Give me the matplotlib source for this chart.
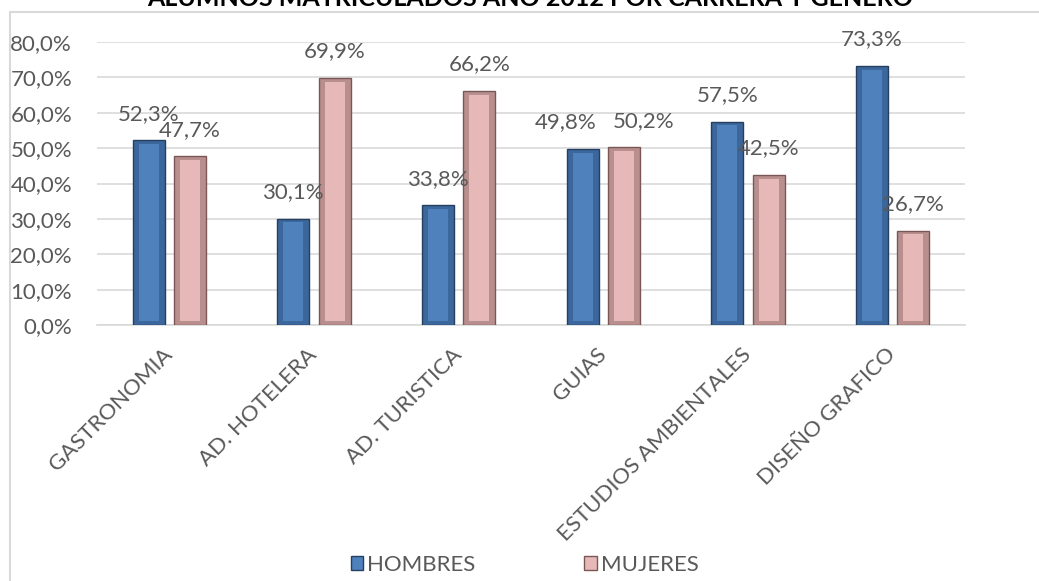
import matplotlib.pyplot as plt
from matplotlib.patches import Rectangle, Patch
from matplotlib.ticker import FuncFormatter
import numpy as np

plt.rcParams['font.family'] = ['Lato', 'DejaVu Sans']

categorias = ['GASTRONOMIA', 'AD. HOTELERA', 'AD. TURISTICA', 'GUIAS',
              'ESTUDIOS AMBIENTALES', 'DISEÑO GRAFICO']
hombres = [0.523, 0.301, 0.338, 0.498, 0.575, 0.733]
mujeres = [0.477, 0.699, 0.662, 0.502, 0.425, 0.267]
series = ['HOMBRES', 'MUJERES']
titulo = 'ALUMNOS MATRICULADOS AÑO 2012 POR CARRERA Y GENERO'

gris = '#595959'
azul, azul_osc, azul_borde = '#4F81BD', '#3B679C', '#243F60'
rosa, rosa_osc, rosa_borde = '#E6B9B8', '#B98F8E', '#7A5756'
fs = 16

# desplazamiento horizontal (pt) de etiquetas que se solapan
ajuste = {(0, 3): -12, (1, 3): 14}


def fmt_pct(v, pos=None):
    return ('%.1f%%' % (v * 100)).replace('.', ',')


fig = plt.figure(figsize=(10.39, 5.81), dpi=100)

# marco del grafico
fig.patches.append(Rectangle((10 / 1039, -0.1), 1.2, 1 - 12 / 581 + 0.1,
                             transform=fig.transFigure, fill=False,
                             edgecolor='#D9D9D9', linewidth=1.5))
fig.text(0.51, 1 - 6 / 581, titulo, ha='center', va='baseline',
         fontsize=18, fontweight='bold', color='black')

ax = fig.add_axes([97 / 1039, 1 - 325 / 581, 868 / 1039, 283 / 581])
x = np.arange(len(categorias))
w = 0.22
off = 0.143


def barras(k, pos, vals, cara, osc, borde):
    ax.bar(pos, vals, w, color=osc, edgecolor=borde, linewidth=1, zorder=3)
    ax.bar(pos, [v - 0.022 for v in vals], w * 0.62, bottom=0.011,
           color=cara, linewidth=0, zorder=4)
    for i, (p, v) in enumerate(zip(pos, vals)):
        ax.annotate(fmt_pct(v), (p, v), xytext=(ajuste.get((k, i), 0), 19),
                    textcoords='offset points', ha='center', va='center',
                    fontsize=fs, color=gris, zorder=5)


barras(0, x - off, hombres, azul, azul_osc, azul_borde)
barras(1, x + off, mujeres, rosa, rosa_osc, rosa_borde)

ax.set_xlim(-0.5, len(categorias) - 0.5)
ax.set_ylim(0, 0.8)
ax.set_yticks(np.arange(0, 0.81, 0.1))
ax.yaxis.set_major_formatter(FuncFormatter(fmt_pct))
ax.grid(axis='y', color='#D9D9D9', linewidth=1.2, zorder=0)
ax.set_axisbelow(True)
for s in ['top', 'right', 'left']:
    ax.spines[s].set_visible(False)
ax.spines['bottom'].set_color('#D9D9D9')
ax.spines['bottom'].set_linewidth(1.2)
ax.tick_params(axis='y', length=0, pad=18, labelsize=fs, labelcolor=gris)
ax.tick_params(axis='x', length=0, pad=19)
ax.set_xticks(x)
ax.set_xticklabels(categorias, rotation=45, ha='right', va='center',
                   rotation_mode='anchor', fontsize=fs, color=gris)

handles = [Patch(facecolor=azul, edgecolor=azul_borde, label=series[0]),
           Patch(facecolor=rosa, edgecolor=rosa_borde, label=series[1])]
leg = fig.legend(handles=handles, loc='center', bbox_to_anchor=(0.505, 1 - 565 / 581),
                 ncol=2, frameon=False, fontsize=fs, handlelength=0.55,
                 handleheight=0.55, handletextpad=0.2, columnspacing=4.9)
for t in leg.get_texts():
    t.set_color(gris)

fig.savefig('out.png', dpi=100)
